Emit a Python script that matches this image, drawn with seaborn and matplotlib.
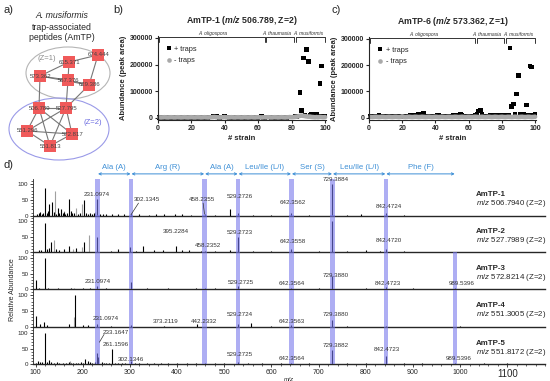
import numpy as np
import pandas as pd
import matplotlib
matplotlib.use("Agg")
import matplotlib.pyplot as plt
import seaborn as sns
from matplotlib.patches import Ellipse
from matplotlib.ticker import MultipleLocator

# ------------------------------------------------------------------ data
# panel a : molecular network of A. musiformis trap-associated peptides
node_labels = ["674.444", "615.371", "573.362", "567.376", "629.386",
               "506.789", "527.795", "551.296", "572.817", "551.813"]
node_x = [98, 69, 40, 68, 89, 39, 66, 27, 72, 50]
node_y = [55, 62, 76, 80, 85, 108, 108, 131, 134, 146]
edges = [(0, 1), (0, 4), (1, 2), (1, 3), (2, 3), (2, 4), (3, 4), (2, 5),
         (3, 6), (4, 6), (5, 6), (5, 7), (5, 8), (5, 9), (6, 7), (6, 8),
         (6, 9), (7, 8), (7, 9), (8, 9)]

# panels b, c : abundance per strain
strains = list(range(1, 101))
b_plus = [3000, 3500, 3000, 4000, 3000, 3500, 3000, 3000, 4000, 3000,
          3000, 3500, 3000, 3000, 3500, 3000, 4000, 3000, 3000, 3500,
          3000, 3000, 3500, 4000, 3000, 3000, 3500, 3000, 4000, 3000,
          3500, 4000, 5000, 8000, 5000, 3500, 3000, 4000, 3500, 6000,
          4000, 3500, 3000, 3500, 3000, 3000, 3500, 3000, 3000, 3500,
          3000, 3500, 3000, 3000, 3500, 3000, 3000, 3500, 3000, 3000,
          3500, 4500, 3000, 3000, 3500, 4000, 3500, 3000, 3000, 3500,
          3000, 3500, 3000, 3000, 3500, 3000, 3000, 3500, 4000, 3500,
          4000, 4500, 5000, 8000, 95000, 28000, 225000, 10000, 258000, 213000,
          10000, 12000, 13000, 10000, 12000, 5000, 130000, 195000, 8000, 8000]
b_minus = [2500, 2000, 2500, 3000, 2500, 2000, 2500, 3000, 2500, 2000,
           2500, 3000, 2500, 2000, 2500, 3000, 2500, 2000, 2500, 3000,
           2500, 2000, 2500, 3000, 2500, 2000, 2500, 3000, 2500, 2000,
           2500, 3000, 3500, 4000, 3000, 2500, 2000, 2500, 3000, 3500,
           2500, 2000, 2500, 3000, 2500, 2000, 2500, 3000, 2500, 2000,
           2500, 3000, 2500, 2000, 2500, 3000, 2500, 2000, 2500, 3000,
           2500, 2000, 2500, 3000, 2500, 3000, 2500, 2000, 2500, 3000,
           2500, 2000, 2500, 3000, 2500, 2000, 2500, 3000, 3500, 3000,
           3500, 4000, 5000, 6000, 8000, 9000, 8000, 7000, 6000, 5000,
           5000, 4000, 3500, 3000, 3500, 3000, 4000, 3500, 3000, 3500]
c_plus = [4000, 3500, 4000, 3500, 4000, 10000, 4000, 3500, 4000, 3500,
          4000, 3500, 4000, 4000, 3500, 4000, 3500, 4000, 4000, 5000,
          4000, 4500, 5000, 6000, 8000, 7000, 8000, 10000, 9000, 12000,
          8000, 9000, 15000, 7000, 6000, 5000, 5000, 5500, 6000, 7000,
          10000, 8000, 6000, 7000, 7000, 5000, 6000, 7000, 5000, 6000,
          8000, 7000, 9000, 10000, 12000, 8000, 6000, 7000, 6000, 5000,
          6000, 5000, 6000, 8000, 12000, 25000, 28000, 12000, 6000, 5000,
          6000, 7000, 8000, 7000, 8000, 9000, 10000, 10000, 8000, 7000,
          8000, 7000, 6000, 8000, 265000, 42000, 52000, 12000, 90000, 160000,
          12000, 12000, 12000, 8000, 48000, 10000, 197000, 193000, 8000, 12000]
c_minus = [3000, 2500, 3000, 3500, 3000, 2500, 3000, 3500, 3000, 2500,
           3000, 3500, 3000, 2500, 3000, 3500, 3000, 2500, 3000, 5000,
           3000, 2500, 3000, 3500, 3000, 2500, 3000, 3500, 3000, 2500,
           3000, 3500, 3000, 2500, 3000, 3500, 3000, 2500, 3000, 3500,
           3000, 2500, 3000, 3500, 3000, 2500, 3000, 3500, 3000, 2500,
           3000, 3500, 3000, 2500, 3000, 3500, 3000, 2500, 3000, 3500,
           3000, 2500, 3000, 3500, 3000, 2500, 3000, 3500, 3000, 2500,
           3000, 3500, 3000, 2500, 3000, 3500, 3000, 2500, 3000, 3500,
           3000, 2500, 3000, 3500, 3000, 2500, 3000, 3500, 3000, 2500,
           3000, 3500, 3000, 2500, 3000, 3500, 3000, 2500, 3000, 3500]
clades = ["A. oligospora", "A. thaumasia", "A. musiformis"]
clade_start = [0.5, 65, 82.5]
clade_end = [64, 81.5, 100]
clade_label_x = [33, 71, 90]

# panel d : MS/MS spectra (m/z, relative abundance)
peptide_names = ["AmTP-1", "AmTP-2", "AmTP-3", "AmTP-4", "AmTP-5"]
precursor_mz = ["506.7940", "527.7989", "572.8214", "551.3005", "551.8172"]
r1_mz = [103, 107, 110, 113, 116, 120, 124, 127, 129, 134, 139, 144, 147, 150, 153,
         157, 160, 163, 167, 171, 174, 178, 182, 190, 194, 202, 206, 210, 215, 219,
         224, 231, 236, 243, 250, 262, 275, 287, 302, 318, 340, 356, 372, 395, 410,
         430, 458, 480, 511, 529, 560, 600, 642, 680, 729, 760, 790, 842, 880]
r1_int = [5, 8, 12, 6, 10, 87, 8, 14, 36, 45, 12, 6, 25, 10, 20,
          8, 12, 6, 10, 53, 14, 8, 10, 6, 10, 50, 8, 6, 10, 5,
          8, 52, 6, 5, 4, 5, 4, 6, 6, 4, 3, 5, 4, 6, 4,
          3, 6, 3, 20, 10, 3, 3, 8, 3, 100, 3, 5, 10, 3]
r1_gray_mz = [141, 160, 185, 198, 226]
r1_gray_int = [78, 15, 25, 36, 12]
r2_mz = [106, 112, 120, 125, 129, 133, 143, 150, 160, 171, 186, 202, 231, 260, 275,
         301, 312, 328, 350, 370, 397, 410, 425, 450, 458, 480, 511, 529, 560, 600,
         642, 700, 729, 760, 800, 830, 842, 880]
r2_int = [6, 8, 94, 10, 15, 32, 12, 8, 12, 20, 15, 32, 48, 5, 10,
          16, 5, 20, 6, 8, 20, 8, 6, 4, 5, 4, 6, 50, 4, 4,
          10, 4, 100, 3, 6, 5, 10, 4]
r2_gray_mz = [138, 180, 199, 214]
r2_gray_int = [39, 10, 18, 55]
r3_mz = [100, 108, 120, 127, 148, 175, 200, 215, 231, 250, 302, 335, 380, 440, 458,
         480, 529, 580, 642, 700, 729, 800, 842, 900, 989]
r3_int = [30, 5, 100, 5, 4, 3, 5, 4, 10, 3, 22, 5, 3, 3, 3,
          4, 10, 2, 5, 3, 43, 3, 8, 3, 3]
r3_gray_mz = [182]
r3_gray_int = [4]
r4_mz = [100, 110, 118, 125, 170, 184, 200, 210, 231, 260, 302, 373, 442, 529, 556,
         600, 642, 729, 760, 842, 1000]
r4_int = [33, 10, 15, 5, 8, 100, 5, 5, 8, 3, 4, 3, 8, 8, 13,
          3, 4, 20, 3, 3, 2]
r4_gray_mz = [182]
r4_gray_int = [30]
r5_mz = [100, 105, 110, 114, 120, 124, 128, 133, 138, 145, 150, 158, 165, 170, 175,
         180, 185, 190, 195, 200, 205, 210, 215, 220, 225, 231, 233, 240, 245, 250,
         255, 261, 268, 275, 283, 290, 302, 310, 320, 335, 350, 365, 380, 400, 420,
         440, 458, 480, 500, 529, 551, 580, 620, 642, 680, 729, 760, 800, 842, 880,
         920, 989, 1050, 1100]
r5_int = [5, 10, 6, 8, 100, 6, 15, 8, 5, 8, 4, 5, 4, 8, 4,
          5, 5, 4, 6, 5, 18, 10, 6, 5, 6, 35, 22, 6, 4, 5,
          4, 48, 5, 4, 5, 3, 10, 4, 3, 4, 3, 3, 3, 3, 3,
          3, 3, 3, 3, 6, 3, 3, 3, 5, 3, 45, 3, 3, 25, 3,
          3, 5, 3, 3]
r5_gray_mz = [172]
r5_gray_int = [10]
rows_mz = [r1_mz, r2_mz, r3_mz, r4_mz, r5_mz]
rows_int = [r1_int, r2_int, r3_int, r4_int, r5_int]
rows_gray_mz = [r1_gray_mz, r2_gray_mz, r3_gray_mz, r4_gray_mz, r5_gray_mz]
rows_gray_int = [r1_gray_int, r2_gray_int, r3_gray_int, r4_gray_int, r5_gray_int]

fragment_mz = [231.0974, 302.1345, 458.2355, 529.2726, 642.3562, 729.3884, 842.4724, 989.5396]
residues = ["Ala (A)", "Arg (R)", "Ala (A)", "Leu/Ile (L/I)", "Ser (S)", "Leu/Ile (L/I)", "Phe (F)"]
# peak annotations per row: (label, x position, y position)
peak_labels = [
    [("231.0974", 230, 66), ("302.1345", 336, 50), ("458.2355", 453, 50),
     ("529.2726", 533, 62), ("642.3562", 646, 43), ("729.3884", 736, 115), ("842.4724", 849, 29)],
    [("395.2284", 398, 65), ("458.2352", 466, 23), ("529.2723", 533, 63),
     ("642.3558", 646, 34), ("842.4720", 849, 37)],
    [("231.0974", 231, 26), ("529.2725", 535, 21), ("642.3564", 642, 19),
     ("729.3880", 737, 45), ("842.4723", 847, 19), ("989.5396", 1003, 19)],
    [("231.0974", 249, 27), ("373.2119", 376, 18), ("442.2332", 457, 18),
     ("529.2724", 533, 39), ("642.3563", 644, 18), ("729.3880", 737, 40)],
    [("233.1647", 269, 102), ("261.1596", 269, 63), ("302.1346", 302, 16),
     ("529.2725", 533, 32), ("642.3564", 642, 19), ("729.3882", 737, 59),
     ("842.4723", 845, 48), ("989.5396", 997, 17)],
]

# ------------------------------------------------------------------ style
sns.set_style("ticks")
plt.rcParams['font.family'] = ['Liberation Sans', 'DejaVu Sans']
plt.rcParams['mathtext.fontset'] = 'custom'
plt.rcParams['mathtext.rm'] = 'Liberation Sans'
plt.rcParams['mathtext.it'] = 'Liberation Sans:italic'
plt.rcParams['mathtext.bf'] = 'Liberation Sans:bold'
if 'mathtext.bfit' in plt.rcParams:
    plt.rcParams['mathtext.bfit'] = 'Liberation Sans:bold:italic'

W, H = 550, 381
fig = plt.figure(figsize=(W / 100, H / 100), dpi=100)


def rect(l, t, r, b):
    return [l / W, 1 - b / H, (r - l) / W, (b - t) / H]


ov = fig.add_axes([0, 0, 1, 1])
ov.set_xlim(0, W)
ov.set_ylim(H, 0)
ov.axis('off')
ov.patch.set_alpha(0)

# panel letters
for letter, (lx, ly) in zip(["a)", "b)", "c)", "d)"], [(3, 10), (113, 10), (331, 10), (3, 165)]):
    ov.text(lx, ly, letter, fontsize=8, va='center', ha='left')

# ------------------------------------------------------------------ panel a
ov.text(62, 16, "A. musiformis", fontsize=6.3, style='italic', ha='center', va='center')
ov.text(62, 27, "trap-associated", fontsize=6.3, ha='center', va='center')
ov.text(62, 38, "peptides (AmTP)", fontsize=6.3, ha='center', va='center')
ov.add_patch(Ellipse((68, 73), 84, 52, fill=False, ec='#b5b5b5', lw=0.8))
ov.add_patch(Ellipse((59, 129), 100, 62, fill=False, ec='#9a9ae8', lw=0.8))
ov.text(47, 59, "(Z=1)", fontsize=5.5, color='#8a8a8a', ha='center', va='center')
ov.text(93, 122, "(Z=2)", fontsize=5.5, color='#6a6ae0', ha='center', va='center')
for i, j in edges:
    ov.plot([node_x[i], node_x[j]], [node_y[i], node_y[j]], color='#777777', lw=0.8, zorder=1)
ov.scatter(node_x, node_y, marker='s', s=75, color='#f05a5a', zorder=2, linewidths=0)
for lab, x, y in zip(node_labels, node_x, node_y):
    ov.text(x + 1, y, lab, fontsize=4.3, color='#444444', ha='center', va='center', zorder=3)


# ------------------------------------------------------------------ panels b, c
def strain_panel(rc, title, plus, minus, ylim):
    ax = fig.add_axes(rect(*rc))
    df = pd.DataFrame({
        'strain': strains + strains,
        'abundance': plus + minus,
        'condition': ['+ traps'] * len(plus) + ['- traps'] * len(minus)})
    sns.scatterplot(data=df, x='strain', y='abundance', hue='condition', style='condition',
                    markers={'+ traps': 's', '- traps': 'o'},
                    palette={'+ traps': 'black', '- traps': '#a9a9a9'},
                    s=11, linewidth=0, ax=ax, clip_on=False)
    ax.set_xlim(0, 100.6)
    ax.set_ylim(*ylim)
    ax.set_xticks([0, 20, 40, 60, 80, 100])
    ax.set_yticks([0, 100000, 200000, 300000])
    ax.set_yticklabels(['0', '100000', '200000', '300000'])
    ax.tick_params(labelsize=5, length=2.5, width=0.8, pad=1)
    for lbl in ax.get_xticklabels() + ax.get_yticklabels():
        lbl.set_fontweight('bold')
    ax.set_xlabel('# strain', fontsize=5.5, fontweight='bold', labelpad=2)
    ax.set_ylabel('Abundance (peak area)', fontsize=5.5, fontweight='bold', labelpad=2)
    sns.despine(ax=ax)
    for s in ['left', 'bottom']:
        ax.spines[s].set_linewidth(0.8)
    handles, labels = ax.get_legend_handles_labels()
    keep = [(h, l) for h, l in zip(handles, labels) if l in ('+ traps', '- traps')]
    ax.legend([k[0] for k in keep], [k[1] for k in keep], loc='upper left',
              bbox_to_anchor=(0.02, 0.93), frameon=False, fontsize=5.3,
              handletextpad=0.1, labelspacing=0.6, borderpad=0, handlelength=1.2,
              markerscale=1.0)
    ax.text(0.5, 1.19, title, transform=ax.transAxes, ha='center', va='center',
            fontsize=6.3, fontweight='bold')
    # clade brackets
    top = 302000
    tick = 16000
    for name, s0, s1, lx in zip(clades, clade_start, clade_end, clade_label_x):
        ax.plot([s0, s0, s1, s1], [top - tick, top, top, top - tick], color='#333333',
                lw=0.7, clip_on=False)
        ax.text(lx, top + 5000, name, fontsize=3.6, style='italic', color='#333333',
                ha='center', va='bottom', clip_on=False)
    return ax


strain_panel((157.7, 36, 326, 120), r"AmTP-1 ($\mathbfit{m/z}$ 506.789, Z=2)",
             b_plus, b_minus, (-7500, 307500))
strain_panel((369, 37, 536, 120), r"AmTP-6 ($\mathbfit{m/z}$ 573.362, Z=1)",
             c_plus, c_minus, (-8770, 307600))

# ------------------------------------------------------------------ panel d
baselines = [215.7, 252.3, 289.3, 326.7, 364.3]
row_h = 37.0
xlim_d = (94.9, 1180)
band_rows = [(0, 5)] * 7 + [(2, 5)]
band_w = 9.5
axes_d = []
for r, base in enumerate(baselines):
    ax = fig.add_axes(rect(33.3, base - row_h, 545, base))
    ax.patch.set_alpha(0)
    ax.set_xlim(*xlim_d)
    ax.set_ylim(0, 100 * row_h / 31.5)
    ax.vlines(rows_gray_mz[r], 0, rows_gray_int[r], color='#a0a0a0', lw=0.8, zorder=2)
    ax.vlines(rows_mz[r], 0, rows_int[r], color='black', lw=0.8, zorder=3)
    for k, f in enumerate(fragment_mz):
        r0, r1 = band_rows[k]
        if r0 <= r < r1:
            ax.axvspan(f - band_w / 2, f + band_w / 2, color='#7878eb', alpha=0.6, lw=0, zorder=4)
    for lab, x, y in peak_labels[r]:
        ax.text(x, y, lab, fontsize=4.5, color='#333333', ha='center', va='center', zorder=5,
                clip_on=False)
    ax.text(1034, 66, peptide_names[r], fontsize=5.7, fontweight='bold', ha='left', va='center')
    ax.text(1034, 39, r"$\it{m/z}$ " + precursor_mz[r] + " (Z=2)", fontsize=5.7,
            ha='left', va='center')
    ax.set_yticks([0, 50, 100])
    ax.yaxis.set_minor_locator(MultipleLocator(10))
    ax.tick_params(axis='y', which='major', labelsize=4.5, length=2.5, width=0.6, pad=1)
    ax.tick_params(axis='y', which='minor', length=1.4, width=0.5)
    for s in ['top', 'right']:
        ax.spines[s].set_visible(False)
    ax.spines['left'].set_linewidth(0.6)
    ax.spines['bottom'].set_linewidth(1.0)
    if r < 4:
        ax.set_xticks([])
    else:
        ax.set_xticks(list(range(100, 1101, 100)))
        ax.xaxis.set_minor_locator(MultipleLocator(20))
        ax.tick_params(axis='x', which='major', labelsize=5, length=2.5, width=0.6, pad=1)
        ax.tick_params(axis='x', which='minor', length=1.4, width=0.5)
        tl = ax.get_xticklabels()
        tl[-1].set_fontsize(7)
        ax.set_xlabel('m/z', fontsize=4.5, style='italic')
        ax.xaxis.set_label_coords(0.5, -0.33)
    axes_d.append(ax)

# leader lines
axes_d[0].plot([302, 318], [3, 40], color='#333333', lw=0.5, zorder=5)
axes_d[0].plot([458, 455], [5, 40], color='#333333', lw=0.5, zorder=5)
axes_d[4].plot([235, 245], [70, 95], color='#333333', lw=0.5, zorder=5)

# residue arrows above top spectrum
top_ax = axes_d[0]
tr = top_ax.get_xaxis_transform()
for k, name in enumerate(residues):
    x0, x1 = fragment_mz[k], fragment_mz[k + 1]
    top_ax.annotate('', xy=(x1 - 1, 1.13), xytext=(x0 + 1, 1.13), xycoords=tr, textcoords=tr,
                    arrowprops=dict(arrowstyle='<->', color='#3d8fd6', lw=0.7,
                                    shrinkA=0, shrinkB=0, mutation_scale=4))
    top_ax.text((x0 + x1) / 2, 1.31, name, transform=tr, fontsize=5.6, color='#3d8fd6',
                ha='center', va='center')

fig.text(13 / W, 1 - 290 / H, 'Relative Abundance', rotation=90, fontsize=5,
         ha='center', va='center')

fig.savefig('out.png', dpi=100)
